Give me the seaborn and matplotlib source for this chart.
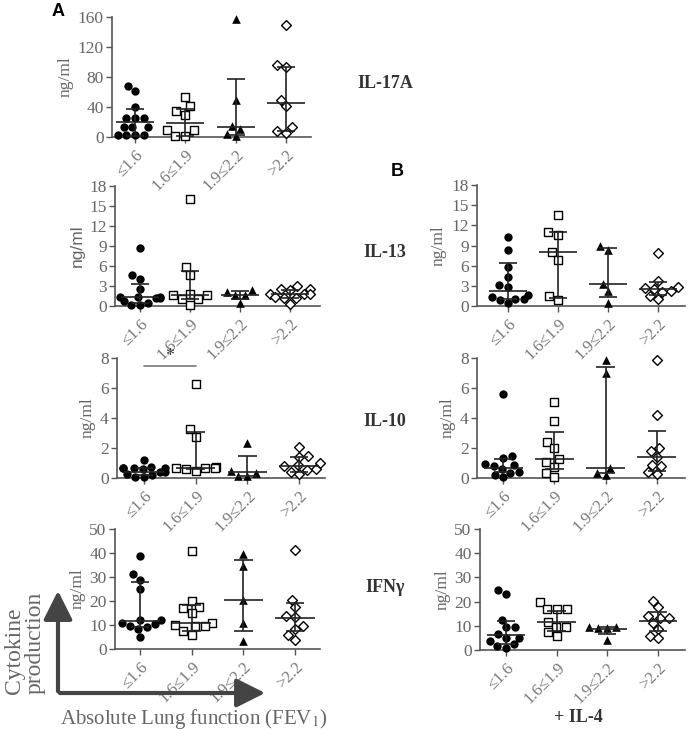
import numpy as np
import pandas as pd
import matplotlib
matplotlib.use("Agg")
import matplotlib.pyplot as plt
import seaborn as sns
from matplotlib.patches import FancyArrowPatch

# groups (absolute FEV1)
groups = ['≤1.6', '1.6≤1.9', '1.9≤2.2', '>2.2']

# Panel A - IL-17A
il17a = [[68, 62, 40, 26, 25, 25, 13, 13, 13, 3, 2.5, 2.5, 3],
         [54, 41, 35, 30, 9, 9, 2, 2],
         [157, 49, 15, 11, 4, 1],
         [150, 96, 94, 50, 41, 13, 8, 5]]
il17a_med = [20, 19, 13, 46]
il17a_lo = [2, 2, 3, 8]
il17a_hi = [38, 37, 77, 94]

# Panel A - IL-13
il13 = [[8.7, 4.6, 4.0, 2.5, 1.4, 1.3, 1.3, 1.2, 1.2, 0.8, 0.5, 0.2, 0.1],
        [16.1, 5.9, 4.6, 1.8, 1.6, 1.6, 1.0, 1.0, 0.2],
        [2.4, 2.1, 1.6, 1.6, 0.5],
        [3.0, 2.6, 2.5, 2.35, 1.75, 1.75, 1.75, 1.35, 1.2, 1.2, 0.35]]
il13_med = [1.35, 1.7, 1.7, 1.75]
il13_lo = [0.4, 1.0, 1.1, 1.2]
il13_hi = [3.35, 5.2, 2.3, 2.4]

# Panel A - IL-10
il10 = [[1.2, 0.75, 0.7, 0.7, 0.7, 0.65, 0.6, 0.4, 0.4, 0.3, 0.2, 0.1, 0.05],
        [6.3, 3.25, 2.75, 0.75, 0.7, 0.7, 0.7, 0.6, 0.45],
        [2.35, 0.5, 0.35, 0.15, 0.15],
        [2.1, 1.45, 1.4, 1.0, 0.85, 0.8, 0.6, 0.55, 0.4, 0.3]]
il10_med = [0.4, 0.7, 0.4, 0.8]
il10_lo = [0.2, 0.6, 0.15, 0.4]
il10_hi = [0.7, 3.1, 1.45, 1.4]

# Panel A - IFNg
ifng = [[38.6, 31.2, 28.9, 25.1, 12.2, 12.2, 10.8, 10.4, 9.4, 9.2, 8.3, 4.9],
        [40.7, 19.9, 17.5, 17.0, 15.0, 10.8, 10.0, 9.4, 9.4, 7.6, 5.7],
        [39.6, 34.4, 20.6, 10.8, 3.5],
        [41.1, 20.6, 17.4, 13.6, 13.2, 9.4, 8.3, 6.0, 3.9]]
ifng_med = [11.5, 11, 20.6, 13]
ifng_lo = [9, 7.5, 7.5, 7.5]
ifng_hi = [28, 18.5, 37.2, 19]

# Panel B (+ IL-4) - IL-13
il13_il4 = [[10.3, 8.3, 5.8, 4.3, 3.1, 2.9, 1.6, 1.4, 1.1, 1.1, 0.85, 0.45],
            [13.5, 11.0, 10.6, 8.0, 6.9, 1.45, 0.95],
            [9.0, 8.3, 3.3, 2.2, 0.5],
            [7.9, 3.7, 2.8, 2.7, 2.6, 2.3, 2.1, 1.5, 1.0]]
il13_il4_med = [2.3, 8.0, 3.3, 2.5]
il13_il4_lo = [1.0, 1.2, 1.4, 1.6]
il13_il4_hi = [6.4, 11.0, 8.7, 3.5]

# Panel B (+ IL-4) - IL-10
il10_il4 = [[5.6, 1.5, 1.35, 0.95, 0.85, 0.8, 0.6, 0.4, 0.35, 0.2, 0.05],
            [5.1, 3.8, 2.4, 2.0, 1.3, 1.05, 0.75, 0.35, 0.05],
            [7.85, 7.0, 0.7, 0.35, 0.2],
            [7.9, 4.2, 2.0, 1.8, 1.4, 0.9, 0.8, 0.4, 0.3]]
il10_il4_med = [0.7, 1.3, 0.7, 1.4]
il10_il4_lo = [0.4, 0.6, 0.35, 0.5]
il10_il4_hi = [1.3, 3.1, 7.4, 3.15]

# Panel B (+ IL-4) - IFNg
ifng_il4 = [[24.6, 23.1, 12.4, 9.7, 9.3, 6.5, 5.1, 5.1, 3.7, 2.3, 1.7, 1.0],
            [19.8, 17, 17, 17, 11.7, 9.7, 9.7, 7.6, 5.8],
            [9.7, 9.4, 9.0, 9.0, 4.1],
            [20.4, 17.7, 14.1, 13.1, 13.1, 11.3, 8.6, 5.9, 4.8]]
ifng_il4_med = [6.3, 11.7, 8.8, 12]
ifng_il4_lo = [2.5, 8, 6.5, 7.8]
ifng_il4_hi = [12, 16, 9.5, 15.8]

W, H = 688, 736
GRAY = '#555555'
TXT = '#666666'

sns.set_theme(style='ticks')
plt.rcParams['font.family'] = ['Liberation Serif', 'DejaVu Serif']
plt.rcParams['mathtext.fontset'] = 'stix'

fig = plt.figure(figsize=(W / 100, H / 100), dpi=100)

# marker styles per group: (marker, face, size)
styles = [('o', 'black', 6.0), ('s', 'white', 5.8), ('^', 'black', 6.2), ('D', 'white', 5.0)]


def add_axes_px(left, right, top, bottom):
    ax = fig.add_axes([left / W, 1 - bottom / H, (right - left) / W, (bottom - top) / H])
    ax.set_facecolor('none')
    return ax


def draw_panel(rect, values, med, lo, hi, yticks, xlim, ylabel_family=None):
    ax = add_axes_px(*rect)
    rows = []
    for g, vals in zip(groups, values):
        for v in vals:
            rows.append({'group': g, 'value': v})
    df = pd.DataFrame(rows)
    for g, (mk, face, sz) in zip(groups, styles):
        sub = df[df['group'] == g]
        if face == 'white':
            sns.swarmplot(data=sub, x='group', y='value', order=groups, ax=ax,
                          marker=mk, color='white', edgecolor='black', linewidth=1.0,
                          size=sz, clip_on=False, zorder=3)
        else:
            sns.swarmplot(data=sub, x='group', y='value', order=groups, ax=ax,
                          marker=mk, color='black', linewidth=0, size=sz,
                          clip_on=False, zorder=3)
    xs = np.arange(len(groups))
    # median with interquartile range
    ax.hlines(med, xs - 0.38, xs + 0.38, color='#222222', lw=1.2, zorder=4)
    ax.vlines(xs, lo, hi, color='#222222', lw=1.2, zorder=4)
    ax.hlines(hi, xs - 0.18, xs + 0.18, color='#222222', lw=1.2, zorder=4)
    ax.hlines(lo, xs - 0.18, xs + 0.18, color='#222222', lw=1.2, zorder=4)

    ax.set_xlim(*xlim)
    ax.set_ylim(yticks[0], yticks[-1])
    ax.set_yticks(yticks)
    ax.set_xticks(xs)
    ax.set_xticklabels(groups, rotation=45, ha='right', rotation_mode='anchor')
    ax.set_xlabel('')
    kw = {}
    if ylabel_family:
        kw['family'] = ylabel_family
    ax.set_ylabel('ng/ml', fontsize=12.5, color=TXT, labelpad=3, **kw)
    sns.despine(ax=ax)
    for sp in ['left', 'bottom']:
        ax.spines[sp].set_color(GRAY)
        ax.spines[sp].set_linewidth(1.2)
    ax.tick_params(axis='both', colors=GRAY, labelcolor=TXT, labelsize=12.5,
                   length=4, width=1, pad=2)
    ax.tick_params(axis='x', labelcolor='#777777', labelsize=12, pad=3)
    return ax


draw_panel((112, 311, 17, 137), il17a, il17a_med, il17a_lo, il17a_hi,
           [0, 40, 80, 120, 160], (-0.46, 3.5))
draw_panel((115, 320, 186, 306), il13, il13_med, il13_lo, il13_hi,
           [0, 3, 6, 9, 12, 15, 18], (-0.5, 3.6), ylabel_family=['Liberation Sans', 'DejaVu Sans'])
ax_a10 = draw_panel((117, 325, 358, 478), il10, il10_med, il10_lo, il10_hi,
                    [0, 2, 4, 6, 8], (-0.52, 3.5))
draw_panel((115, 320, 529, 649), ifng, ifng_med, ifng_lo, ifng_hi,
           [0, 10, 20, 30, 40, 50], (-0.48, 3.48))

draw_panel((477, 685, 185, 306), il13_il4, il13_il4_med, il13_il4_lo, il13_il4_hi,
           [0, 3, 6, 9, 12, 15, 18], (-0.62, 3.54))
draw_panel((477, 685, 358, 478), il10_il4, il10_il4_med, il10_il4_lo, il10_il4_hi,
           [0, 2, 4, 6, 8], (-0.51, 3.55))
draw_panel((480, 685, 529, 650), ifng_il4, ifng_il4_med, ifng_il4_lo, ifng_il4_hi,
           [0, 10, 20, 30, 40, 50], (-0.51, 3.53))

# significance bar between first two groups (IL-10, panel A)
ax_a10.plot([0, 1], [7.45, 7.45], color='#777777', lw=1.2, clip_on=False)
ax_a10.text(0.5, 7.55, '*', ha='center', va='bottom', fontsize=13, color='#444444')

# cytokine names
for label, y in [('IL-17A', 83), ('IL-13', 252), ('IL-10', 421), ('IFNγ', 588)]:
    fig.text(385 / W, 1 - y / H, label, ha='center', va='center', fontsize=13,
             fontweight='bold', color='#333333')

# panel letters
fig.text(58 / W, 1 - 12 / H, 'A', ha='center', va='center', fontsize=13,
         fontweight='bold', family=['Liberation Sans', 'DejaVu Sans'], color='black')
fig.text(397 / W, 1 - 172 / H, 'B', ha='center', va='center', fontsize=13,
         fontweight='bold', family=['Liberation Sans', 'DejaVu Sans'], color='black')

# axis schematic arrows
arrow_kw = dict(transform=fig.transFigure, arrowstyle='-|>,head_length=1.1,head_width=0.55',
                mutation_scale=16, color='#444444', lw=3)
fig.add_artist(FancyArrowPatch((58 / W, 1 - 694 / H), (58 / W, 1 - 588 / H), **arrow_kw))
fig.add_artist(FancyArrowPatch((57 / W, 1 - 693 / H), (268 / W, 1 - 693 / H), **arrow_kw))

fig.text(25 / W, 1 - 694 / H, 'Cytokine\nproduction', rotation=90, ha='center', va='bottom',
         multialignment='left', fontsize=17, color=TXT, linespacing=1.0)
fig.text(194 / W, 1 - 719 / H, 'Absolute Lung function (FEV$_1$)', ha='center', va='center',
         fontsize=15, color=TXT)
fig.text(578 / W, 1 - 718 / H, '+ IL-4', ha='center', va='center', fontsize=13,
         fontweight='bold', color='#333333')

fig.savefig('out.png', dpi=100)
